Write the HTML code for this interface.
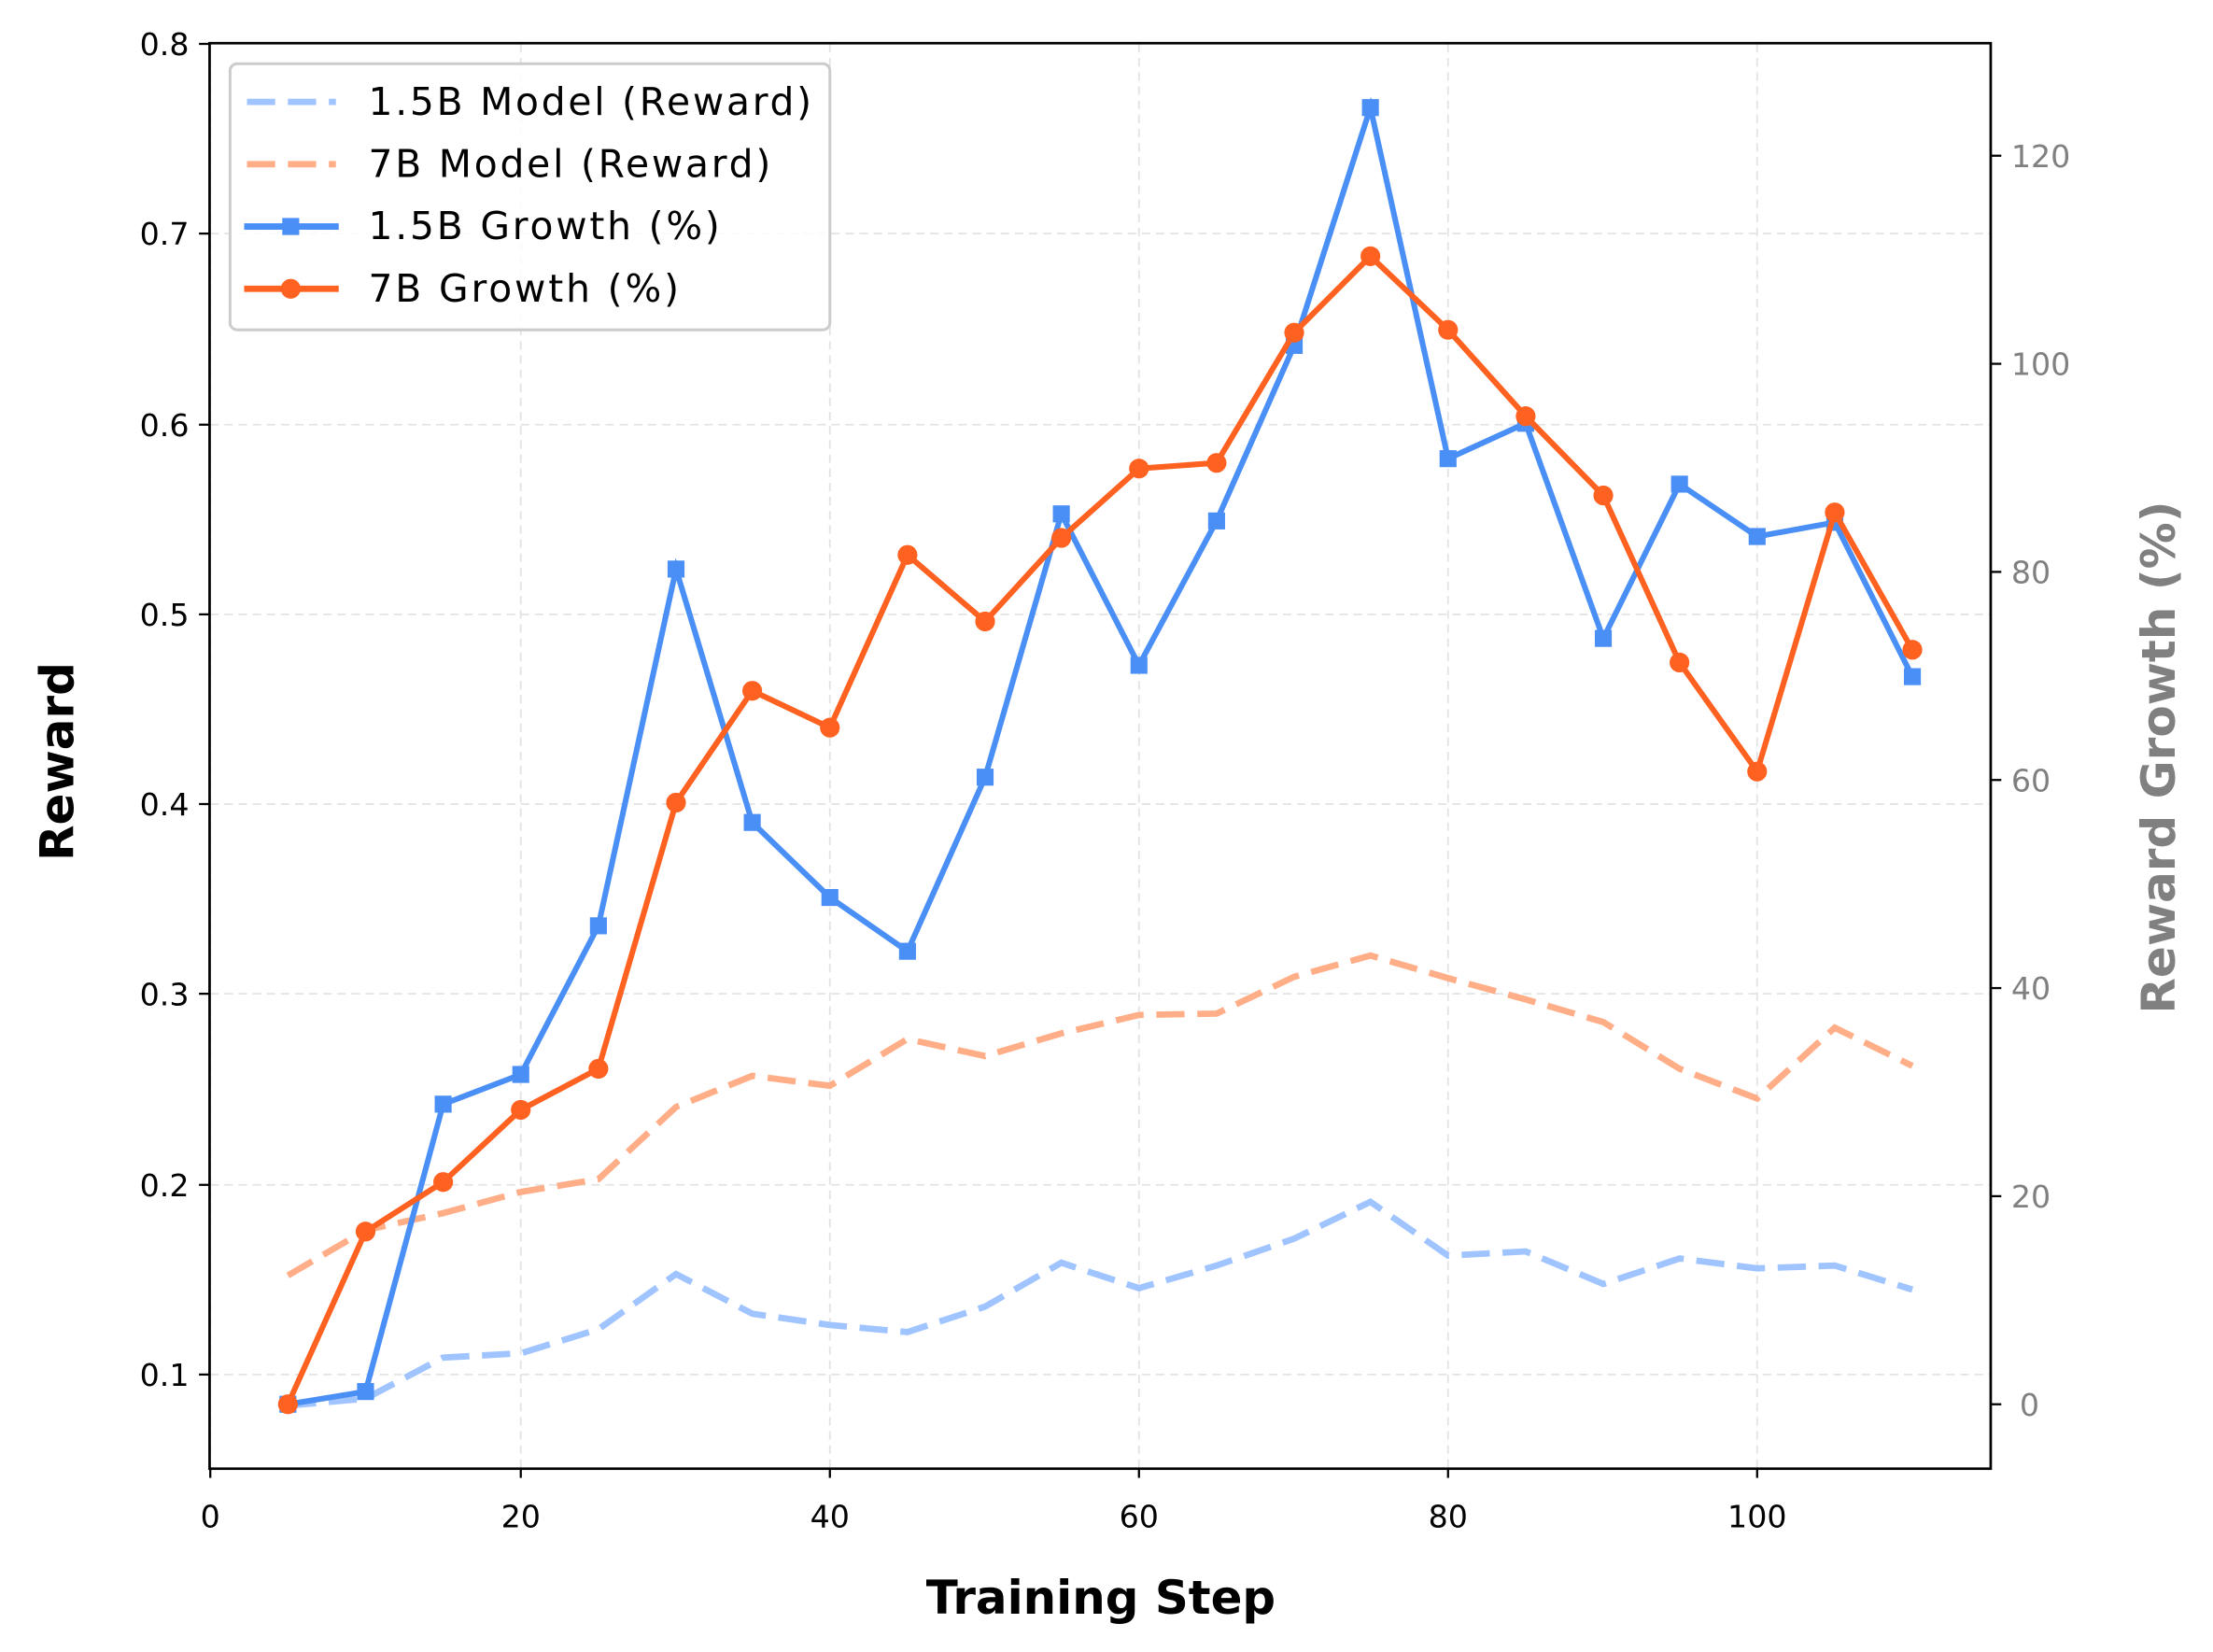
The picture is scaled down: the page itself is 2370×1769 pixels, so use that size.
<!DOCTYPE html>
<html><head><style>html,body{margin:0;padding:0;background:#fff}svg{display:block}</style></head>
<body>
<svg width="2370" height="1769" viewBox="0 0 1568 1167" preserveAspectRatio="none" xmlns="http://www.w3.org/2000/svg" font-family="'DejaVu Sans','Liberation Sans',sans-serif">
<rect width="1568" height="1167" fill="#fff"/>
<g stroke="#e3e3e3" stroke-width="1.2" stroke-dasharray="6,4">
<line x1="149" y1="31" x2="149" y2="1037"/><line x1="369" y1="31" x2="369" y2="1037"/><line x1="588" y1="31" x2="588" y2="1037"/><line x1="807" y1="31" x2="807" y2="1037"/><line x1="1026" y1="31" x2="1026" y2="1037"/><line x1="1245" y1="31" x2="1245" y2="1037"/>
<line x1="149" y1="971" x2="1411" y2="971"/><line x1="149" y1="837" x2="1411" y2="837"/><line x1="149" y1="702" x2="1411" y2="702"/><line x1="149" y1="568" x2="1411" y2="568"/><line x1="149" y1="434" x2="1411" y2="434"/><line x1="149" y1="300" x2="1411" y2="300"/><line x1="149" y1="165" x2="1411" y2="165"/>
</g>
<g fill="none" stroke-width="4.5" stroke-dasharray="20,9">
<polyline stroke="#a0c4ff" points="204,993 259,988 314,959 369,956 424,939 479,900 533,928 588,936 643,941 698,923 752,892 807,910 862,894 917,875 971,849 1026,887 1081,884 1136,907 1190,889 1245,896 1300,894 1355,911"/>
<polyline stroke="#ffae88" points="204,901 259,869 314,857 369,842 424,833 479,782 533,760 588,767 643,734 698,746 752,730 807,717 862,716 917,690 971,675 1026,691 1081,706 1136,722 1190,755 1245,776 1300,726 1355,753"/>
</g>
<g fill="#4a8ff5" stroke="#4a8ff5">
<polyline fill="none" stroke-width="4" points="204,992 259,983 314,780 369,759 424,654 479,402 533,581 588,634 643,672 698,549 752,363 807,470 862,368 917,244 971,76 1026,324 1081,299 1136,451 1190,342 1245,379 1300,369 1355,478"/>
<g stroke="none">
<rect x="198" y="986" width="12" height="12"/><rect x="253" y="977" width="12" height="12"/><rect x="308" y="774" width="12" height="12"/><rect x="363" y="753" width="12" height="12"/><rect x="418" y="648" width="12" height="12"/><rect x="473" y="396" width="12" height="12"/><rect x="527" y="575" width="12" height="12"/><rect x="582" y="628" width="12" height="12"/><rect x="637" y="666" width="12" height="12"/><rect x="692" y="543" width="12" height="12"/><rect x="746" y="357" width="12" height="12"/><rect x="801" y="464" width="12" height="12"/><rect x="856" y="362" width="12" height="12"/><rect x="911" y="238" width="12" height="12"/><rect x="965" y="70" width="12" height="12"/><rect x="1020" y="318" width="12" height="12"/><rect x="1075" y="293" width="12" height="12"/><rect x="1130" y="445" width="12" height="12"/><rect x="1184" y="336" width="12" height="12"/><rect x="1239" y="373" width="12" height="12"/><rect x="1294" y="363" width="12" height="12"/><rect x="1349" y="472" width="12" height="12"/>
</g></g>
<g fill="#ff6120" stroke="#ff6120">
<polyline fill="none" stroke-width="4" points="204,992 259,870 314,835 369,784 424,755 479,567 533,488 588,514 643,392 698,439 752,380 807,331 862,327 917,235 971,181 1026,233 1081,294 1136,350 1190,468 1245,545 1300,362 1355,459"/>
<g stroke="none">
<circle cx="204" cy="992" r="7"/><circle cx="259" cy="870" r="7"/><circle cx="314" cy="835" r="7"/><circle cx="369" cy="784" r="7"/><circle cx="424" cy="755" r="7"/><circle cx="479" cy="567" r="7"/><circle cx="533" cy="488" r="7"/><circle cx="588" cy="514" r="7"/><circle cx="643" cy="392" r="7"/><circle cx="698" cy="439" r="7"/><circle cx="752" cy="380" r="7"/><circle cx="807" cy="331" r="7"/><circle cx="862" cy="327" r="7"/><circle cx="917" cy="235" r="7"/><circle cx="971" cy="181" r="7"/><circle cx="1026" cy="233" r="7"/><circle cx="1081" cy="294" r="7"/><circle cx="1136" cy="350" r="7"/><circle cx="1190" cy="468" r="7"/><circle cx="1245" cy="545" r="7"/><circle cx="1300" cy="362" r="7"/><circle cx="1355" cy="459" r="7"/>
</g></g>
<rect x="148.5" y="30.5" width="1262" height="1007" fill="none" stroke="#000" stroke-width="1.8"/>
<g stroke="#000" stroke-width="1.5">
<line x1="149" y1="1037" x2="149" y2="1044"/><line x1="369" y1="1037" x2="369" y2="1044"/><line x1="588" y1="1037" x2="588" y2="1044"/><line x1="807" y1="1037" x2="807" y2="1044"/><line x1="1026" y1="1037" x2="1026" y2="1044"/><line x1="1245" y1="1037" x2="1245" y2="1044"/>
<line x1="141" y1="971" x2="148" y2="971"/><line x1="141" y1="837" x2="148" y2="837"/><line x1="141" y1="702" x2="148" y2="702"/><line x1="141" y1="568" x2="148" y2="568"/><line x1="141" y1="434" x2="148" y2="434"/><line x1="141" y1="300" x2="148" y2="300"/><line x1="141" y1="165" x2="148" y2="165"/><line x1="141" y1="31" x2="148" y2="31"/>
<line x1="1411" y1="992" x2="1418" y2="992"/><line x1="1411" y1="845" x2="1418" y2="845"/><line x1="1411" y1="698" x2="1418" y2="698"/><line x1="1411" y1="551" x2="1418" y2="551"/><line x1="1411" y1="404" x2="1418" y2="404"/><line x1="1411" y1="257" x2="1418" y2="257"/><line x1="1411" y1="110" x2="1418" y2="110"/>
</g>
<g font-size="22" fill="#000" text-anchor="middle">
<text x="149" y="1079">0</text><text x="369" y="1079">20</text><text x="588" y="1079">40</text><text x="807" y="1079">60</text><text x="1026" y="1079">80</text><text x="1245" y="1079">100</text>
</g>
<g font-size="22" fill="#000" text-anchor="end">
<text x="134" y="979">0.1</text><text x="134" y="845">0.2</text><text x="134" y="710">0.3</text><text x="134" y="576">0.4</text><text x="134" y="442">0.5</text><text x="134" y="308">0.6</text><text x="134" y="173">0.7</text><text x="134" y="39">0.8</text>
</g>
<g font-size="22" fill="#808080">
<text x="1431" y="1000">0</text><text x="1425" y="853">20</text><text x="1425" y="706">40</text><text x="1425" y="559">60</text><text x="1425" y="412">80</text><text x="1425" y="265">100</text><text x="1425" y="118">120</text>
</g>
<text x="780" y="1140" font-size="33" font-weight="bold" text-anchor="middle">Training Step</text>
<text transform="translate(52,538) rotate(-90)" font-size="33" font-weight="bold" text-anchor="middle">Reward</text>
<text transform="translate(1541,535) rotate(-90)" font-size="33" font-weight="bold" fill="#808080" text-anchor="middle">Reward Growth (%)</text>
<rect x="163" y="45" width="425" height="188" rx="5" fill="#fff" fill-opacity="0.85" stroke="#cccccc" stroke-width="2"/>
<g stroke-width="4.5">
<line x1="175" y1="72" x2="238" y2="72" stroke="#a0c4ff" stroke-dasharray="20,9"/>
<line x1="175" y1="116" x2="238" y2="116" stroke="#ffae88" stroke-dasharray="20,9"/>
<line x1="173" y1="160" x2="240" y2="160" stroke="#4a8ff5"/>
<line x1="173" y1="204" x2="240" y2="204" stroke="#ff6120"/>
</g>
<rect x="200" y="154" width="12" height="12" fill="#4a8ff5"/>
<circle cx="206" cy="204" r="7" fill="#ff6120"/>
<g font-size="27" fill="#000">
<text x="261" y="81" textLength="314">1.5B Model (Reward)</text><text x="261" y="125" textLength="285">7B Model (Reward)</text><text x="261" y="169" textLength="249">1.5B Growth (%)</text><text x="261" y="213" textLength="220">7B Growth (%)</text>
</g>
</svg>
</body></html>
